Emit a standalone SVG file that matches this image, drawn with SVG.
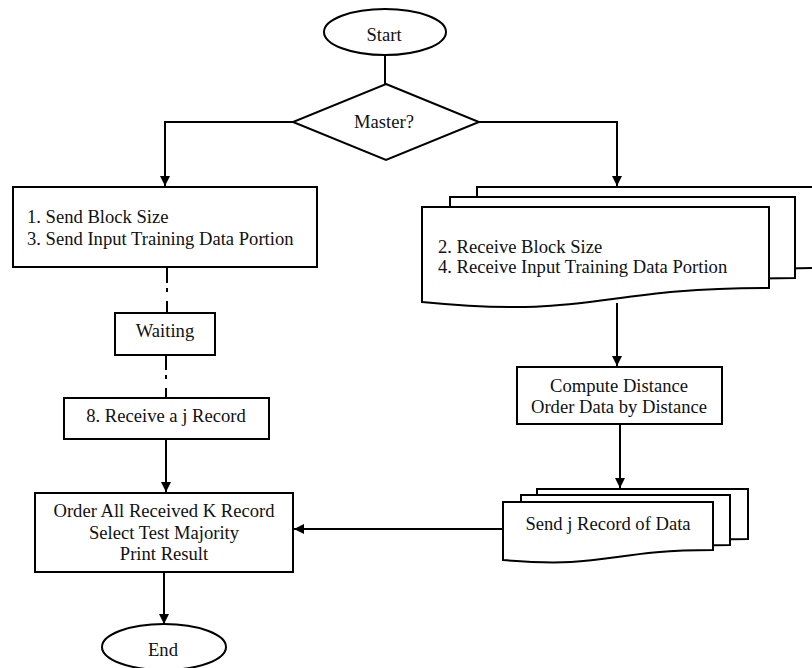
<svg xmlns="http://www.w3.org/2000/svg" width="812" height="668" viewBox="0 0 812 668" font-family="'Liberation Serif', 'DejaVu Serif', serif" font-size="18.6">
<style>
.s{fill:#fff;stroke:#000;stroke-width:2}
.c{fill:none;stroke:#000;stroke-width:2}
text{fill:#111}
.m{text-anchor:middle}
</style>
<defs>
<marker id="a" viewBox="0 0 10 10" refX="10" refY="5" markerWidth="5" markerHeight="5" markerUnits="strokeWidth" orient="auto">
<path d="M0,0 L10,5 L0,10 Z" fill="#000"/>
</marker>
</defs>
<rect width="812" height="668" fill="#fff"/>
<g id="connectors">
<path class="c" d="M385,55 V84"/>
<path class="c" d="M293,122 H165 V186" marker-end="url(#a)"/>
<path class="c" d="M479,122 H617 V186" marker-end="url(#a)"/>
<path class="c" d="M167,267 V283 M167,288 V292 M167,301 V313"/>
<path class="c" d="M166,355 V370 M166,375 V379 M166,388 V398"/>
<path class="c" d="M166,439 V492" marker-end="url(#a)"/>
<path class="c" d="M164,572 V624" marker-end="url(#a)"/>
<path class="c" d="M617,303 V366" marker-end="url(#a)"/>
<path class="c" d="M620,424 V488" marker-end="url(#a)"/>
<path class="c" d="M503,529 H294" marker-end="url(#a)"/>
</g>
<g id="start">
<ellipse class="s" cx="385" cy="32" rx="61" ry="23"/>
<text class="m" x="384" y="41">Start</text>
</g>
<g id="master">
<path class="s" d="M386,84 L479,122 L386,160 L293,122 Z"/>
<text class="m" x="384" y="128">Master?</text>
</g>
<g id="send-block">
<rect class="s" x="13" y="187" width="304" height="80"/>
<text x="27" y="223">1. Send Block Size</text>
<text x="27" y="245">3. Send Input Training Data Portion</text>
</g>
<g id="waiting">
<rect class="s" x="115" y="313" width="100" height="42"/>
<text class="m" x="165" y="337">Waiting</text>
</g>
<g id="receive-record">
<rect class="s" x="64" y="398" width="205" height="41"/>
<text class="m" x="166" y="422">8. Receive a j Record</text>
</g>
<g id="order">
<rect class="s" x="35" y="493" width="258" height="79"/>
<text class="m" x="164" y="517">Order All Received K Record</text>
<text class="m" x="164" y="539">Select Test Majority</text>
<text class="m" x="164" y="560">Print Result</text>
</g>
<g id="end">
<ellipse class="s" cx="164" cy="647" rx="62" ry="23"/>
<text class="m" x="163" y="656">End</text>
</g>
<g id="receive-docs">
<path class="s" d="M477,187 H824 V268 C650,268 650,299 477,291 Z"/>
<path class="s" d="M450,197 H795 V278 C622,278 622,309 450,301 Z"/>
<path class="s" d="M422,207 H769 V288 C595,288 595,319 422,302 Z"/>
<text x="438" y="253">2. Receive Block Size</text>
<text x="438" y="273">4. Receive Input Training Data Portion</text>
</g>
<g id="compute">
<rect class="s" x="517" y="367" width="205" height="57"/>
<text class="m" x="619" y="392">Compute Distance</text>
<text class="m" x="619" y="413">Order Data by Distance</text>
</g>
<g id="send-docs">
<path class="s" d="M537,489 H748 V539 C642,539 642,558 537,553 Z"/>
<path class="s" d="M521,495 H730 V545 C625,545 625,564 521,558 Z"/>
<path class="s" d="M503,502 H713 V550 C608,550 608,569 503,560 Z"/>
<text class="m" x="608" y="530">Send j Record of Data</text>
</g>
</svg>
